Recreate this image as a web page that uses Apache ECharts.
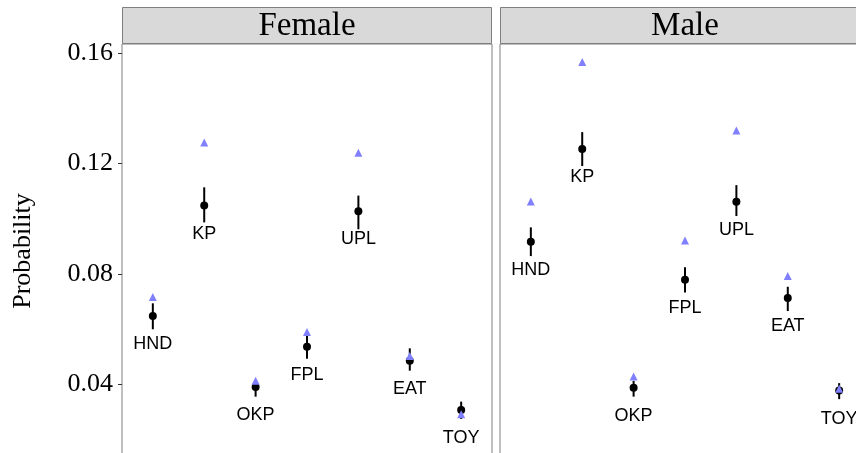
<!DOCTYPE html>
<html>
<head>
<meta charset="utf-8">
<script src="https://cdn.jsdelivr.net/npm/echarts@6/dist/echarts.min.js"></script>
<style>html,body{margin:0;padding:0;background:#fff;}#c{width:856px;height:453px;}</style>
</head>
<body>
<div id="c"></div>
<script>
const categories = ['HND','KP','OKP','FPL','UPL','EAT','TOY'];
const panels = ['Female','Male'];
const yTicks = [0.04, 0.08, 0.12, 0.16];

const femaleEst = [0.0647,0.1047,0.0390,0.0536,0.1026,0.0485,0.0307];
const femaleLo  = [0.0599,0.0986,0.0355,0.0492,0.0961,0.0449,0.0274];
const femaleHi  = [0.0693,0.1113,0.0412,0.0575,0.1083,0.0530,0.0337];
const femaleObs = [0.0716,0.1275,0.0413,0.0589,0.1238,0.0502,0.0291];

const maleEst = [0.0916,0.1252,0.0387,0.0778,0.1061,0.0712,0.0377];
const maleLo  = [0.0864,0.1190,0.0355,0.0732,0.1009,0.0665,0.0346];
const maleHi  = [0.0968,0.1313,0.0412,0.0824,0.1121,0.0753,0.0404];
const maleObs = [0.1062,0.1567,0.0428,0.0920,0.1319,0.0792,0.0384];

const groups = [
  {est: femaleEst, lo: femaleLo, hi: femaleHi, obs: femaleObs},
  {est: maleEst, lo: maleLo, hi: maleHi, obs: maleObs}
];

const gridLefts = [122, 500];
const gridW = 370, gridTop = 44, gridH = 412;
const yMin = 0.01401, yMax = 0.1632;

const chart = echarts.init(document.getElementById('c'), null, {renderer: 'canvas'});

const grids = [], xAxes = [], yAxes = [], series = [], graphics = [];
groups.forEach((g, i) => {
  grids.push({left: gridLefts[i], top: gridTop, width: gridW, height: gridH,
    outerBoundsMode: 'none',
    show: true, borderColor: '#7f7f7f', borderWidth: 1, backgroundColor: '#fff', containLabel: false});
  xAxes.push({type: 'value', gridIndex: i, min: 0.4, max: 7.6, show: false});
  yAxes.push({type: 'value', gridIndex: i, min: yMin, max: yMax,
    splitLine: {show: false}, axisLine: {show: false},
    axisTick: {show: i === 0, length: 4, lineStyle: {color: '#333333', width: 1}, customValues: yTicks},
    axisLabel: {show: i === 0, customValues: yTicks, margin: 9,
      fontFamily: 'Liberation Serif', fontSize: 26, color: '#000',
      formatter: v => v.toFixed(2)}
  });
  series.push({
    type: 'custom', xAxisIndex: i, yAxisIndex: i, z: 1,
    data: categories.map((c, k) => [k + 1, g.lo[k], g.hi[k]]),
    renderItem: (params, api) => {
      const p1 = api.coord([api.value(0), api.value(1)]);
      const p2 = api.coord([api.value(0), api.value(2)]);
      return {type: 'line', shape: {x1: p1[0], y1: p1[1], x2: p2[0], y2: p2[1]},
        style: {stroke: '#000', lineWidth: 2}};
    },
    clip: false,
    silent: true
  });
  series.push({
    type: 'scatter', xAxisIndex: i, yAxisIndex: i, z: 2,
    symbol: 'circle', symbolSize: 8,
    itemStyle: {color: '#000', opacity: 1},
    data: categories.map((c, k) => ({value: [k + 1, g.est[k]], name: c})),
    label: {show: true, position: 'bottom', distance: 15, formatter: p => p.name,
      fontFamily: 'Liberation Sans', fontSize: 18, lineHeight: 18, color: '#000', opacity: 1},
    silent: true
  });
  series.push({
    type: 'scatter', xAxisIndex: i, yAxisIndex: i, z: 3,
    symbol: 'triangle', symbolSize: 8,
    itemStyle: {color: '#8080ff', opacity: 1},
    data: categories.map((c, k) => [k + 1, g.obs[k]]),
    silent: true
  });
  graphics.push({type: 'rect', shape: {x: gridLefts[i] + 0.5, y: 7.5, width: gridW - 1, height: 36},
    style: {fill: '#d9d9d9', stroke: '#7f7f7f', lineWidth: 1}, z: 10});
  graphics.push({type: 'text', x: gridLefts[i] + gridW / 2, y: 26,
    style: {text: panels[i], fontFamily: 'Liberation Serif', fontSize: 33, fill: '#000',
      align: 'center', verticalAlign: 'middle'}, z: 11});
});
graphics.push({type: 'text', x: 23, y: 251, rotation: Math.PI / 2,
  style: {text: 'Probability', fontFamily: 'Liberation Serif', fontSize: 26, fill: '#000',
    align: 'center', verticalAlign: 'middle'}});

chart.setOption({
  animation: false,
  backgroundColor: '#fff',
  grid: grids, xAxis: xAxes, yAxis: yAxes, series: series, graphic: graphics
});
</script>
</body>
</html>
